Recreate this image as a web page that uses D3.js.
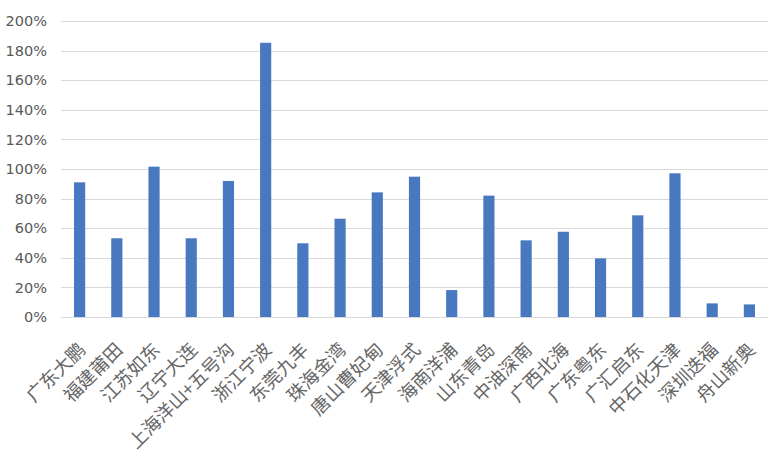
<!DOCTYPE html>
<html>
<head>
<meta charset="utf-8">
<script src="https://cdn.jsdelivr.net/npm/d3@7"></script>
<style>
  html, body { margin: 0; padding: 0; background: #fff; }
  svg { display: block; }
</style>
</head>
<body>
<div id="chart"></div>
<script>
const categories = ["广东大鹏","福建莆田","江苏如东","辽宁大连","上海洋山+五号沟","浙江宁波","东莞九丰","珠海金湾","唐山曹妃甸","天津浮式","海南洋浦","山东青岛","中油深南","广西北海","广东粤东","广汇启东","中石化天津","深圳迭福","舟山新奥"];
const values = [0.91, 0.532, 1.016, 0.532, 0.919, 1.853, 0.498, 0.664, 0.842, 0.948, 0.182, 0.82, 0.518, 0.576, 0.396, 0.687, 0.971, 0.092, 0.085];
const yTicks = [0, 0.2, 0.4, 0.6, 0.8, 1.0, 1.2, 1.4, 1.6, 1.8, 2.0];

const W = 783, H = 460;
const mLeft = 61, mRight = 768, mTop = 21, mBottom = 317;

const svg = d3.select("#chart").append("svg").attr("width", W).attr("height", H);

const x = d3.scaleBand().domain(categories).range([mLeft, mRight]).paddingInner(0.70).paddingOuter(0.35);
const y = d3.scaleLinear().domain([0, 2]).range([mBottom, mTop]);

// gridlines
svg.append("g").selectAll("line").data(yTicks).join("line")
  .attr("x1", mLeft).attr("x2", mRight)
  .attr("y1", d => Math.round(y(d)) + 0.5).attr("y2", d => Math.round(y(d)) + 0.5)
  .attr("stroke", "#d9d9d9").attr("stroke-width", 1);

// y axis labels
const yAxis = d3.axisLeft(y).tickValues(yTicks).tickFormat(d3.format(".0%")).tickSize(0).tickPadding(0);
const gy = svg.append("g").attr("transform", `translate(47,0)`).call(yAxis);
gy.select(".domain").remove();
gy.selectAll("text").attr("fill", "#595959").attr("font-family", "'DejaVu Sans', sans-serif").attr("font-size", "14.5px");

// bars
svg.append("g").selectAll("rect").data(values).join("rect")
  .attr("x", (d, i) => x(categories[i]))
  .attr("width", x.bandwidth())
  .attr("y", d => y(d))
  .attr("height", d => y(0) - y(d))
  .attr("fill", "#4878C0");

// x labels
const xAxis = d3.axisBottom(x).tickSize(0).tickPadding(0);
const gx = svg.append("g").attr("transform", `translate(0,${mBottom})`).call(xAxis);
gx.select(".domain").remove();
gx.selectAll("text")
  .attr("fill", "#666666")
  .attr("font-family", "'Noto Sans CJK SC', sans-serif")
  .attr("font-size", "18.5px")
  .attr("text-anchor", "end")
  .attr("dy", null)
  .attr("transform", "translate(7,34) rotate(-45)");
</script>
</body>
</html>
